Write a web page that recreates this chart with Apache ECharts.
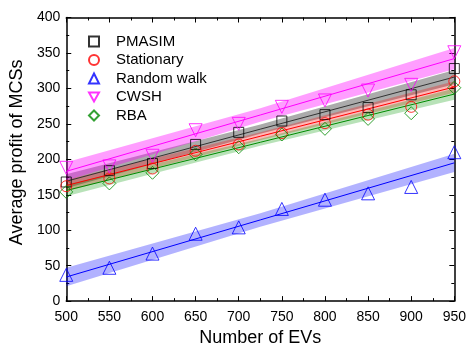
<!DOCTYPE html>
<html>
<head>
<meta charset="utf-8">
<script src="https://cdn.jsdelivr.net/npm/echarts@6/dist/echarts.min.js"></script>
<style>html,body{margin:0;padding:0;background:#fff}#c{width:469px;height:352px}</style>
</head>
<body>
<div id="c"></div>
<script>
// ---- data ----
var evs = [500, 550, 600, 650, 700, 750, 800, 850, 900, 950];
var pmasim     = [168, 184, 194, 221, 238, 254, 263, 273, 291, 328];
var stationary = [162, 173, 187, 212, 221, 237, 251, 263, 274, 310];
var randomWalk = [37, 47, 67, 95, 104, 130, 143, 152, 161, 210];
var cwsh       = [188, 190, 205, 241, 250, 274, 283, 297, 305, 351];
var rba        = [154, 166, 181, 207, 217, 235, 243, 257, 265, 301];

// fitted lines and their bands, read at x = 500, 725, 950
var fitX = [500, 725, 950];
var pmasimFit = [169, 242.5, 316], pmasimLo = [159, 236, 306], pmasimHi = [179, 249, 326];
var statFit   = [163, 232.5, 302], statLo   = [155, 227, 294], statHi   = [171, 238, 310];
var rwFit     = [34, 114.5, 195],  rwLo     = [21, 105, 182],  rwHi     = [47, 124, 208];
var cwshFit   = [183, 262.5, 342], cwshLo   = [170, 253, 327], cwshHi   = [196, 272, 357];
var rbaFit    = [156, 224, 292],   rbaLo    = [148, 219, 284], rbaHi    = [164, 229, 300];

var xTicks = [500, 550, 600, 650, 700, 750, 800, 850, 900, 950];
var yTicks = [0, 50, 100, 150, 200, 250, 300, 350, 400];

var FONT = '"Liberation Sans", Arial, sans-serif';
function pairs(xs, ys) { return xs.map(function (x, i) { return [x, ys[i]]; }); }

var groups = [
  {name: 'PMASIM', pts: pmasim, fit: pmasimFit, lo: pmasimLo, hi: pmasimHi, color: '#000000', band: 'rgba(0,0,0,0.33)', line: '#333333', symbol: 'rect', size: 10},
  {name: 'Stationary', pts: stationary, fit: statFit, lo: statLo, hi: statHi, color: '#ff0000', band: 'rgba(255,0,0,0.28)', line: '#ff0000', symbol: 'circle', size: 11},
  {name: 'Random walk', pts: randomWalk, fit: rwFit, lo: rwLo, hi: rwHi, color: '#0000ff', band: 'rgba(0,0,255,0.3)', line: '#0000ff', symbol: 'triangle', size: 13},
  {name: 'CWSH', pts: cwsh, fit: cwshFit, lo: cwshLo, hi: cwshHi, color: '#ff00ff', band: 'rgba(255,0,255,0.38)', line: '#ff00ff', symbol: 'path://M0,0 L10,0 L5,9 Z', size: 13},
  {name: 'RBA', pts: rba, fit: rbaFit, lo: rbaLo, hi: rbaHi, color: '#008a00', band: 'rgba(0,150,0,0.28)', line: '#008a00', symbol: 'diamond', size: 13}
];

var series = [];
groups.forEach(function (g) {
  // band polygon: data rows are [x, lower, upper]
  var rows = fitX.map(function (x, i) { return [x, g.lo[i], g.hi[i]]; });
  series.push({
    type: 'custom', name: g.name + ' band', silent: true, z: 1,
    data: rows,
    encode: {x: 0, y: [1, 2]},
    renderItem: function (params, api) {
      if (params.dataIndex !== 0) return null;
      var upper = [], lower = [];
      for (var i = 0; i < rows.length; i++) {
        upper.push(api.coord([rows[i][0], rows[i][2]]));
        lower.push(api.coord([rows[i][0], rows[i][1]]));
      }
      var pts = upper.concat(lower.reverse());
      return {type: 'polygon', shape: {points: pts}, style: {fill: g.band, stroke: null}};
    }
  });
});
groups.forEach(function (g) {
  series.push({
    type: 'line', name: g.name + ' fit', data: pairs(fitX, g.fit), symbol: 'none',
    lineStyle: {color: g.line, width: 1}, z: 3, silent: true
  });
});
groups.forEach(function (g) {
  series.push({
    type: 'scatter', name: g.name, data: pairs(evs, g.pts), symbol: g.symbol, symbolSize: g.size,
    itemStyle: {color: 'rgba(0,0,0,0)', borderColor: g.color, borderWidth: 1}, z: 5
  });
});

var axisCommon = {
  axisLine: {show: true, onZero: false, lineStyle: {color: '#000', width: 1.5}},
  axisTick: {show: true, inside: true, length: 5, lineStyle: {color: '#000', width: 1}},
  minorTick: {show: true, splitNumber: 2, length: 3, lineStyle: {color: '#000', width: 1}},
  splitLine: {show: false}
};

var chart = echarts.init(document.getElementById('c'), null, {renderer: 'canvas'});
chart.setOption({
  animation: false,
  backgroundColor: '#fff',
  grid: {left: 65, right: 14, top: 17.5, bottom: 45.5, containLabel: false},
  legend: {
    data: groups.map(function (g) { return g.name; }),
    orient: 'vertical', left: 83, top: 29, itemWidth: 10, itemHeight: 10, itemGap: 3.5,
    textStyle: {fontFamily: FONT, fontSize: 15, color: '#000', padding: [0, 0, 0, 12]}
  },
  xAxis: [
    Object.assign({
      type: 'value', min: 500, max: 950, interval: 50,
      name: 'Number of EVs', nameLocation: 'middle', nameGap: 24,
      nameTextStyle: {fontFamily: FONT, fontSize: 18, color: '#000'},
      axisLabel: {fontFamily: FONT, fontSize: 14, color: '#000', margin: 9,
        formatter: function (v) { return xTicks.indexOf(v) >= 0 ? String(v) : ''; }}
    }, axisCommon),
    Object.assign({
      type: 'value', min: 500, max: 950, interval: 50, position: 'top',
      axisLabel: {show: false}
    }, axisCommon)
  ],
  yAxis: [
    Object.assign({
      type: 'value', min: 0, max: 400, interval: 50,
      name: 'Average profit of MCSs', nameLocation: 'middle', nameGap: 33,
      nameTextStyle: {fontFamily: FONT, fontSize: 18, color: '#000', padding: [0, 0, 0, 14]},
      axisLabel: {fontFamily: FONT, fontSize: 14, color: '#000', margin: 6,
        formatter: function (v) { return yTicks.indexOf(v) >= 0 ? String(v) : ''; }}
    }, axisCommon),
    Object.assign({
      type: 'value', min: 0, max: 400, interval: 50, position: 'right',
      axisLabel: {show: false}
    }, axisCommon)
  ],
  series: series
});
</script>
</body>
</html>
